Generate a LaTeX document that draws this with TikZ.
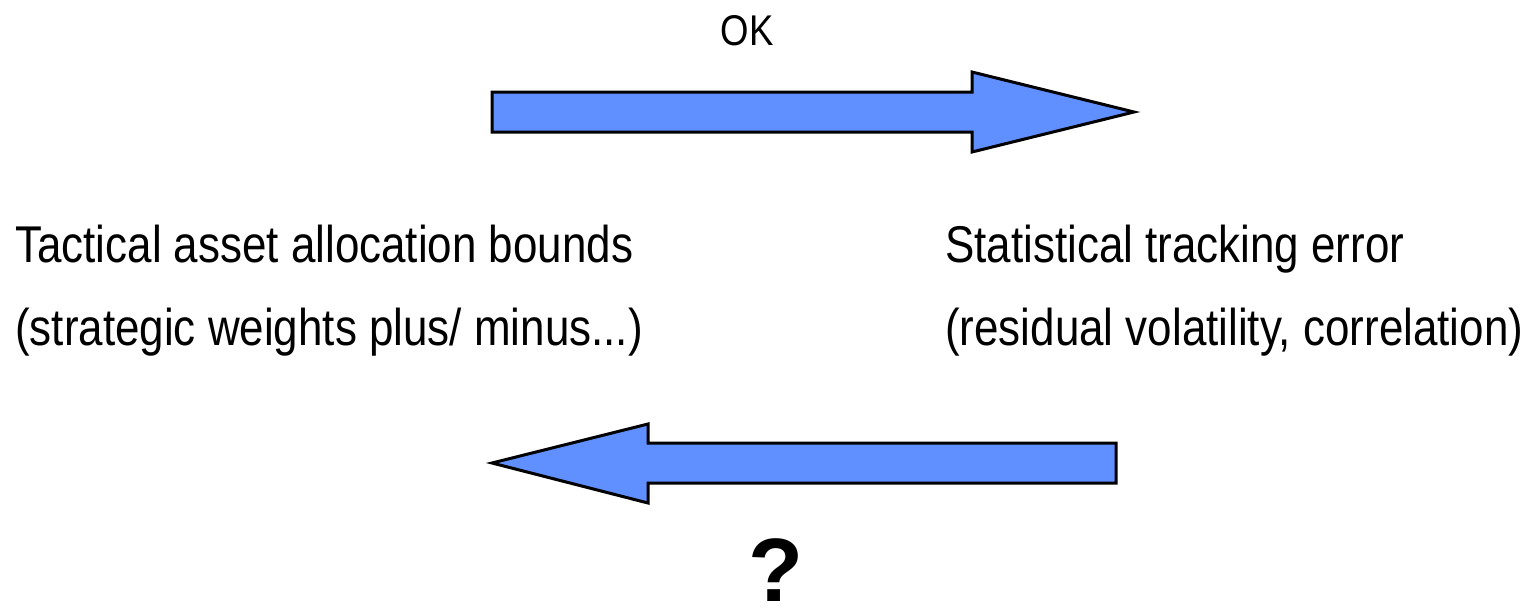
\documentclass[tikz,border=0pt]{standalone}
\usepackage{fontspec}
\usepackage{xcolor}
\setmainfont{Liberation Sans}[FakeStretch=0.85]
\newfontfamily\questionfont{Liberation Sans}[BoldFont={* Bold}]
\definecolor{background}{RGB}{255, 255, 255}
\definecolor{arrowfill}{RGB}{96, 143, 255}
\definecolor{mainfont}{RGB}{0, 0, 0}
\tikzset{
  blockarrow/.style={fill=arrowfill,draw=black,line width=3pt,line join=miter},
  boundtext/.style={anchor=base west,inner sep=0pt,font=\fontsize{51.7}{60}\selectfont,text=mainfont}
}

\begin{document}
\begin{tikzpicture}[x=1pt,y=-1pt]
				% Boundary box
				\fill[background] (0,0) rectangle (1525,608);
				\useasboundingbox (0,0) rectangle (1525,608);

				% Upper arrow (pointing right)
				\draw[blockarrow] (492,92) -- (972,92) -- (972,72) -- (1134,112)
				  -- (972,152) -- (972,132) -- (492,132) -- cycle;

				% Lower arrow (pointing left)
				\draw[blockarrow] (1116,443) -- (648,443) -- (648,424) -- (492,463)
				  -- (648,503) -- (648,483) -- (1116,483) -- cycle;

				% Text
				% Label above the upper arrow
				\node[anchor=base,inner sep=0pt,font=\fontsize{43}{50}\selectfont] (ok) at (747,45) {OK};

				% Left side
				\node[boundtext] (tactical) at (15,262) {Tactical asset allocation bounds};
				\node[boundtext] (strategic) at (15,345) {(strategic weights plus/ minus...)};

				% Right side
				\node[boundtext] (statistical) at (945,262) {Statistical tracking error};
				\node[boundtext] (residual) at (945,345) {(residual volatility, correlation)};

				% Label below the lower arrow
				\node[anchor=base,inner sep=0pt,text depth=0pt,font=\questionfont\bfseries\fontsize{90}{100}\selectfont] (question) at (776,601) {?};
			\end{tikzpicture}
\end{document}
